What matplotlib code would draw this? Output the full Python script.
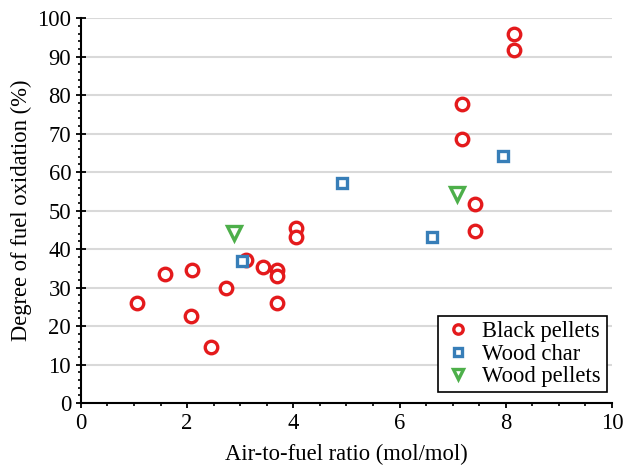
import matplotlib
matplotlib.use("Agg")
import matplotlib.pyplot as plt
from matplotlib.ticker import MultipleLocator

plt.rcParams['font.family'] = ['Liberation Serif', 'DejaVu Serif']
plt.rcParams['mathtext.fontset'] = 'stix'

black_x = [1.05, 1.58, 2.10, 2.07, 2.45, 2.74, 3.10, 3.43, 3.70, 3.70, 3.70, 4.06, 4.06,
           7.17, 7.17, 7.42, 7.42, 8.15, 8.15]
black_y = [26.0, 33.5, 34.5, 22.6, 14.6, 29.8, 37.1, 35.4, 34.5, 33.1, 26.0, 45.6, 43.2,
           77.7, 68.7, 51.7, 44.7, 95.8, 91.7]
char_x = [3.03, 4.92, 6.62, 7.95]
char_y = [37.0, 57.1, 43.2, 64.2]
wood_x = [2.89, 7.09]
wood_y = [44.2, 54.2]

labels = ["Black pellets", "Wood char", "Wood pellets"]
colors = ["#E41A1C", "#377EB8", "#4DAF4A"]

fig = plt.figure(figsize=(6.27, 4.66), dpi=100)
ax = fig.add_axes([0.129, 0.135, 0.847, 0.826])

ax.plot(black_x, black_y, linestyle='none', marker='o', markersize=9, markerfacecolor='white',
        markeredgecolor=colors[0], markeredgewidth=2.4, label=labels[0], zorder=3)
ax.plot(char_x, char_y, linestyle='none', marker='s', markersize=7, markerfacecolor='white',
        markeredgecolor=colors[1], markeredgewidth=2.4, label=labels[1], zorder=3)
ax.plot(wood_x, wood_y, linestyle='none', marker='v', markersize=10.5, markerfacecolor='white',
        markeredgecolor=colors[2], markeredgewidth=2.4, label=labels[2], zorder=3)

ax.set_xlim(0, 10)
ax.set_ylim(0, 100)
ax.xaxis.set_major_locator(MultipleLocator(2))
ax.xaxis.set_minor_locator(MultipleLocator(0.5))
ax.yaxis.set_major_locator(MultipleLocator(10))
ax.yaxis.set_minor_locator(MultipleLocator(2))

ax.yaxis.grid(True, which='major', color='#d9d9d9', linewidth=1.5, zorder=0)
ax.set_axisbelow(True)

for s in ['top', 'right']:
    ax.spines[s].set_visible(False)
for s in ['left', 'bottom']:
    ax.spines[s].set_linewidth(1.5)

fs = 16.3
ax.tick_params(axis='both', which='major', labelsize=fs, width=1.3)
ax.tick_params(axis='y', which='major', direction='inout', length=7)
ax.tick_params(axis='x', which='major', direction='out', length=3.5)
ax.tick_params(axis='both', which='minor', width=1.2, length=2.5, direction='out')

ax.set_xlabel("Air-to-fuel ratio (mol/mol)", fontsize=fs, labelpad=7)
ax.set_ylabel("Degree of fuel oxidation (%)", fontsize=fs)

leg = ax.legend(loc='lower right', fontsize=fs, frameon=True, fancybox=False,
                edgecolor='black', framealpha=1, borderpad=0.25, labelspacing=0.05,
                handletextpad=0.38, handlelength=1.35, markerscale=0.75,
                bbox_to_anchor=(0.99, 0.028), borderaxespad=0)
leg.get_frame().set_linewidth(1.2)

fig.savefig("out.png", dpi=100)
